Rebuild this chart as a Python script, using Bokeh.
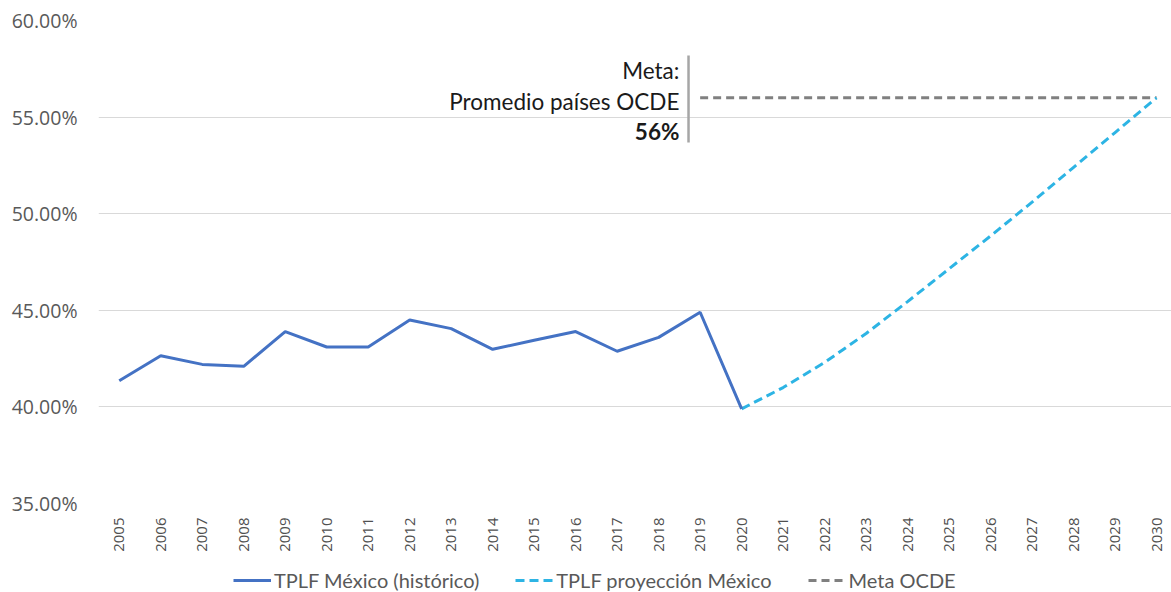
import math
from bokeh.plotting import figure
from bokeh.layouts import column
from bokeh.models import (Range1d, FixedTicker, CustomJSTickFormatter, Legend, LegendItem)
from bokeh.core.properties import value
from bokeh.embed import file_html
from bokeh.resources import INLINE

# ---- data ----
hist_years = list(range(2005, 2021))
hist_vals = [41.35, 42.65, 42.2, 42.1, 43.9, 43.1, 43.1, 44.5, 44.05, 42.98,
             43.45, 43.9, 42.88, 43.6, 44.9, 39.9]
proj_years = list(range(2020, 2031))
proj_vals = [39.9, 41.0, 42.3, 43.8, 45.45, 47.15, 48.85, 50.6, 52.4, 54.2, 56.0]
meta_years = list(range(2019, 2031))
meta_vals = [56.0] * len(meta_years)
y_ticks = [35, 40, 45, 50, 55, 60]
x_ticks = list(range(2005, 2031))
series_names = ["TPLF México (histórico)", "TPLF proyección México", "Meta OCDE"]
note_lines = ["Meta:", "Promedio países OCDE", "56%"]

GRAY = "#595959"
C_HIST, C_PROJ, C_META = "#4472C4", "#2DB4E4", "#808080"
STYLES = [dict(line_color=C_HIST, line_width=3),
          dict(line_color=C_PROJ, line_width=3, line_dash="9 5"),
          dict(line_color=C_META, line_width=3, line_dash="8 5")]
SERIES = [(hist_years, hist_vals), (proj_years, proj_vals), (meta_years, meta_vals)]

p = figure(width=1171, height=560, output_backend="svg", toolbar_location=None,
           x_range=Range1d(2004.5, 2030.36), y_range=Range1d(35, 60),
           min_border_left=98, min_border_right=0, min_border_top=20,
           min_border_bottom=57)
p.outline_line_color = None
p.background_fill_color = "white"
p.border_fill_color = "white"

# axes
p.yaxis.ticker = FixedTicker(ticks=y_ticks)
p.yaxis.formatter = CustomJSTickFormatter(code="return tick.toFixed(2) + '%';")
p.yaxis.axis_line_color = None
p.yaxis.major_tick_line_color = None
p.yaxis.minor_tick_line_color = None
p.yaxis.major_label_text_font = "Open Sans"
p.yaxis.major_label_text_font_size = "19.5px"
p.yaxis.major_label_text_color = GRAY
p.yaxis.major_label_standoff = 15

p.xaxis.ticker = FixedTicker(ticks=x_ticks)
p.xaxis.axis_line_color = None
p.xaxis.major_tick_line_color = None
p.xaxis.minor_tick_line_color = None
p.xaxis.major_label_orientation = math.pi / 2
p.xaxis.major_label_text_font = "Open Sans"
p.xaxis.major_label_text_font_size = "15px"
p.xaxis.major_label_text_color = "#505050"
p.xaxis.major_label_standoff = 8

p.xgrid.grid_line_color = None
p.ygrid.grid_line_color = "#d9d9d9"
p.ygrid.grid_line_width = 1.2

# series (meta drawn first, underneath)
for (xs, ys), st in reversed(list(zip(SERIES, STYLES))):
    p.line(xs, ys, **st)

# annotation
p.segment(x0=[2018.72], y0=[53.69], x1=[2018.72], y1=[58.19],
          line_color="#a6a6a6", line_width=2.5)
p.text(x=[2018.5, 2018.5], y=[57.41, 55.81], text=note_lines[:2],
       text_align="right", text_baseline="middle",
       text_font=value("Lato"), text_font_size="22.5px", text_color="#1a1a1a")
p.text(x=[2018.5], y=[54.26], text=note_lines[2:],
       text_align="right", text_baseline="middle", text_font_style="bold",
       text_font=value("Lato"), text_font_size="22.5px", text_color="#1a1a1a")

# legend strip (same series, drawn outside this strip's visible range)
lg = figure(width=1171, height=32, output_backend="svg", toolbar_location=None,
            x_range=Range1d(0, 1), y_range=Range1d(0, 1),
            min_border=0, x_axis_type=None, y_axis_type=None)
lg.outline_line_color = None
lg.grid.visible = False
lrs = [lg.line(xs, ys, **st) for (xs, ys), st in zip(SERIES, STYLES)]
legend = Legend(items=[LegendItem(label=n, renderers=[r])
                       for n, r in zip(series_names, lrs)],
                orientation="horizontal", location=(135, 0),
                label_text_font="Lato", label_text_font_size="20px",
                label_text_color=GRAY, glyph_width=38, label_standoff=3,
                spacing=36, border_line_color=None, background_fill_alpha=0,
                padding=0, margin=0)
lg.add_layout(legend, "center")

layout = column(p, lg, spacing=0)
open("out.html", "w").write(file_html(layout, INLINE))
